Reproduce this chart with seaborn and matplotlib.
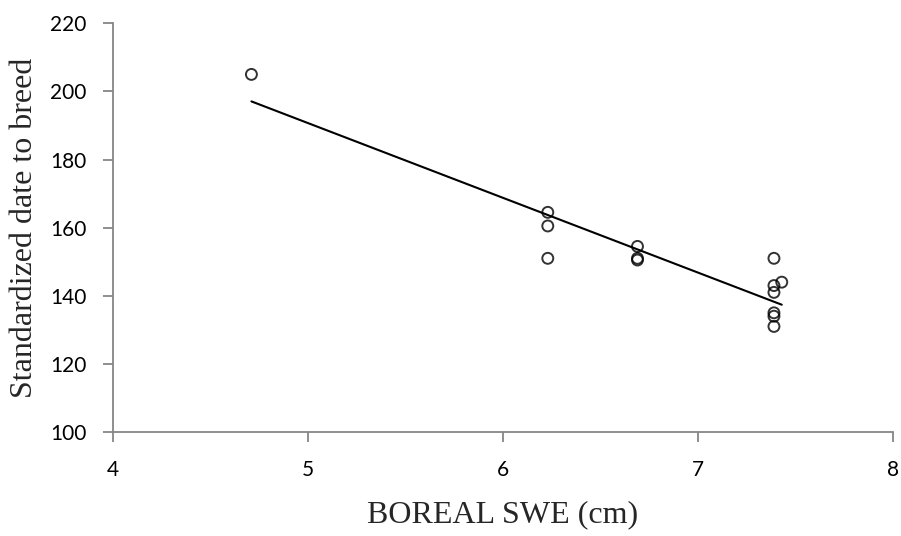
import pandas as pd
import matplotlib
matplotlib.use('Agg')
import matplotlib.pyplot as plt
import seaborn as sns

# values
swe = [4.71, 6.23, 6.23, 6.23, 6.69, 6.69, 6.69,
       7.39, 7.39, 7.43, 7.39, 7.39, 7.39, 7.39]
breed_date = [205, 164.5, 160.5, 151, 154.5, 151, 150.5,
              151, 143, 144, 141, 135, 134, 131]
x_ticks = [4, 5, 6, 7, 8]
y_ticks = [100, 120, 140, 160, 180, 200, 220]

df = pd.DataFrame({'swe': swe, 'date': breed_date})

sns.set_style('white')
axis_grey = '#868686'

fig = plt.figure(figsize=(9.01, 5.36), dpi=100)
ax = fig.add_axes([0.1254, 0.194, 0.8656, 0.7625])

sns.regplot(data=df, x='swe', y='date', ci=None, ax=ax,
            marker='o',
            scatter_kws={'s': 62, 'facecolors': 'none',
                         'edgecolors': 'black', 'linewidths': 1.4},
            line_kws={'color': 'black', 'linewidth': 1.5})

ax.set_xlim(4, 8)
ax.set_ylim(100, 220)
ax.set_xticks(x_ticks)
ax.set_yticks(y_ticks)
ax.set_xticklabels([str(t) for t in x_ticks], family='Lato', fontsize=15)
ax.set_yticklabels([str(t) for t in y_ticks], family='Lato', fontsize=15)

for side in ['top', 'right']:
    ax.spines[side].set_visible(False)
for side in ['left', 'bottom']:
    ax.spines[side].set_color(axis_grey)
    ax.spines[side].set_linewidth(1.3)
ax.tick_params(axis='both', direction='out', length=7, width=1.3,
               color=axis_grey, labelcolor='black',
               bottom=True, left=True)
ax.tick_params(axis='y', pad=12)
ax.tick_params(axis='x', pad=13)

ax.set_xlabel('BOREAL SWE (cm)', family='Liberation Serif', fontsize=23,
              labelpad=15)
ax.set_ylabel('Standardized date to breed', family='Liberation Serif',
              fontsize=23, labelpad=8)

fig.savefig('out.png', dpi=100)
